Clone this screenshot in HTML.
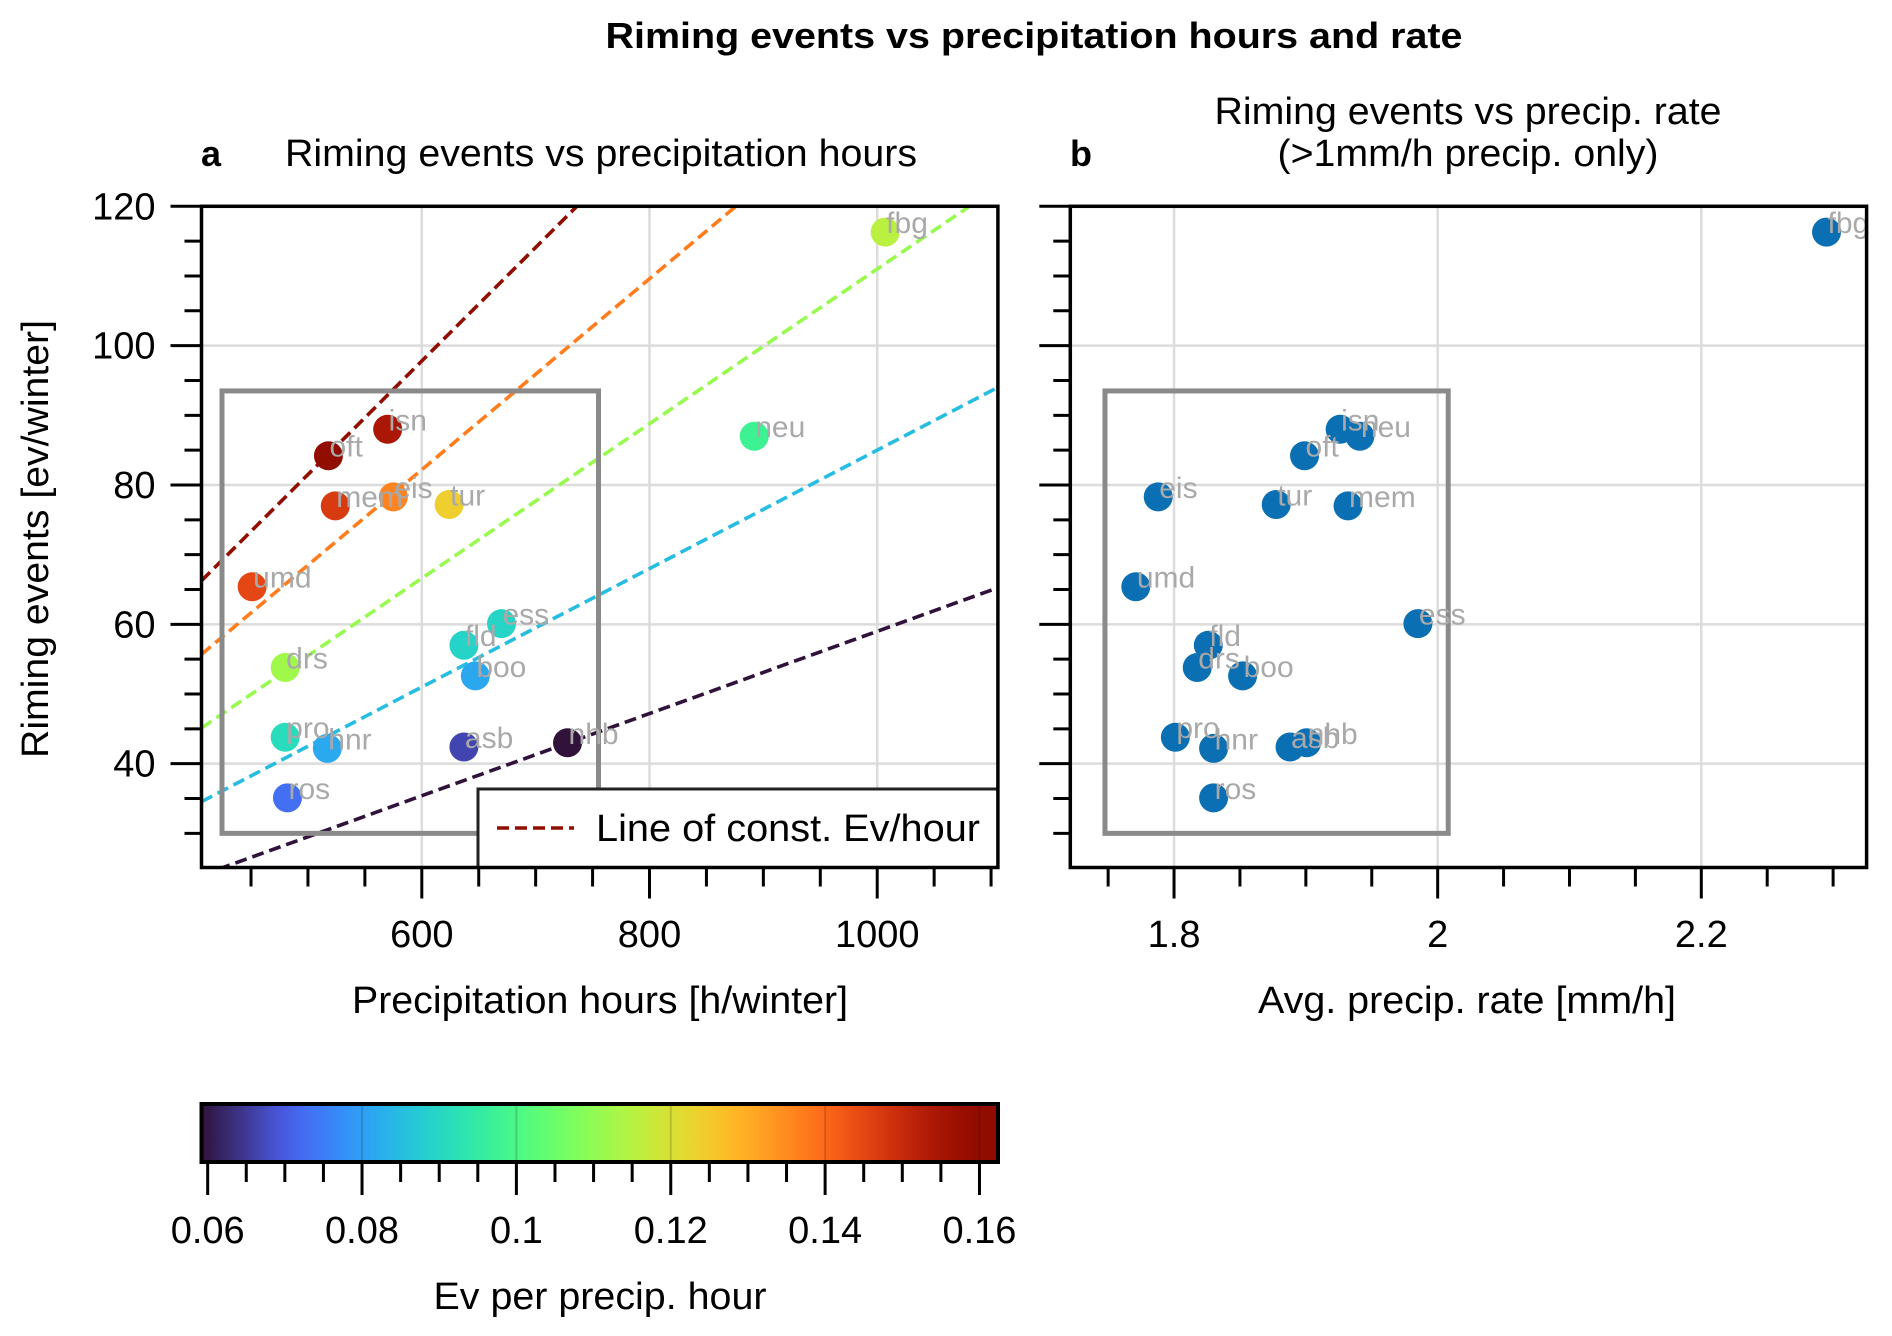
<!DOCTYPE html>
<html><head><meta charset="utf-8"><style>
html,body{margin:0;padding:0;background:#fff;}
svg{display:block;font-family:"Liberation Sans",Arial,sans-serif;}
</style></head><body>
<svg id="fig" width="1892" height="1336" viewBox="0 0 1892 1336" xmlns="http://www.w3.org/2000/svg">
<defs>
<clipPath id="clipA"><rect x="201.5" y="206.3" width="796.4" height="661.2"/></clipPath>
<linearGradient id="turboGrad" x1="0" x2="1" y1="0" y2="0"></linearGradient>
</defs>
<text x="1034" y="48" text-anchor="middle" font-weight="bold" font-size="36" textLength="857" lengthAdjust="spacingAndGlyphs">Riming events vs precipitation hours and rate</text>
<text x="201" y="166" font-weight="bold" font-size="36">a</text>
<text x="285" y="166" font-size="38" textLength="632" lengthAdjust="spacingAndGlyphs">Riming events vs precipitation hours</text>
<text x="1070" y="166" font-weight="bold" font-size="36">b</text>
<text x="1468" y="124" text-anchor="middle" font-size="38" textLength="507" lengthAdjust="spacingAndGlyphs">Riming events vs precip. rate</text>
<text x="1468" y="166" text-anchor="middle" font-size="38" textLength="381" lengthAdjust="spacingAndGlyphs">(&gt;1mm/h precip. only)</text>
<text transform="translate(48,539) rotate(-90)" text-anchor="middle" font-size="38" textLength="438" lengthAdjust="spacingAndGlyphs">Riming events [ev/winter]</text>
<text x="600" y="1013" text-anchor="middle" font-size="38" textLength="496" lengthAdjust="spacingAndGlyphs">Precipitation hours [h/winter]</text>
<text x="1467" y="1013" text-anchor="middle" font-size="38" textLength="418" lengthAdjust="spacingAndGlyphs">Avg. precip. rate [mm/h]</text>
<text x="600" y="1309" text-anchor="middle" font-size="38" textLength="333" lengthAdjust="spacingAndGlyphs">Ev per precip. hour</text>
<g id="layer"></g>
</svg>
<script>
const stations = ["fbg","neu","isn","oft","mem","eis","tur","umd","drs","ess","fld","boo","pro","hnr","asb","nhb","ros"];
const precipHours = [1007,892,570,518,524,575,624,451,480,670,637,647,480,517,637,728,482];
const rimingEvents = [116.3,87.0,88.0,84.2,77.0,78.3,77.2,65.4,53.8,60.1,57.0,52.6,43.8,42.2,42.4,43.0,35.1];
const precipRate = [2.295,1.941,1.926,1.899,1.932,1.788,1.8775,1.771,1.8176,1.985,1.826,1.852,1.801,1.830,1.888,1.9006,1.830];
const constSlopes = [0.059,0.085,0.111,0.137,0.163];
const yTicks = [40,60,80,100,120];
const xTicksA = [600,800,1000];
const xTickLabelsB = ["1.8","2","2.2"];
const xTicksB = [1.8,2.0,2.2];
const cbTicks = [0.06,0.08,0.1,0.12,0.14,0.16];
const cbTickLabels = ["0.06","0.08","0.1","0.12","0.14","0.16"];

const NS="http://www.w3.org/2000/svg";
const layer=document.getElementById('layer');
function mk(tag,attrs,parent){const e=document.createElementNS(NS,tag);for(const k in attrs)e.setAttribute(k,attrs[k]);(parent||layer).appendChild(e);return e;}
function turboPoly(t){
 const r=0.13572138+t*(4.61539260+t*(-42.66032258+t*(132.13108234+t*(-152.94239396+t*59.28637943))));
 const g=0.09140261+t*(2.19418839+t*(4.84296658+t*(-14.18503333+t*(4.27729857+t*2.82956604))));
 const b=0.10667330+t*(12.64194608+t*(-60.58204836+t*(110.36276771+t*(-89.90310912+t*27.34824973))));
 return [r,g,b].map(v=>255*Math.max(0,Math.min(1,v)));}
function turbo(t){t=Math.max(0,Math.min(1,t));
 let c=turboPoly(t);
 if(t<0.1){const a=turboPoly(0.1),s=[48,18,59],f=t/0.1;c=s.map((v,i)=>v+(a[i]-v)*f);}
 return `rgb(${c.map(v=>Math.round(v)).join(',')})`;}
const vmin=0.0592,vmax=0.1624;
const cnorm=v=>(v-vmin)/(vmax-vmin);

const T=206.3,B=867.5,ymin=25.1,ymax=120;
const Y=v=>B-(v-ymin)/(ymax-ymin)*(B-T);
const AL=201.5,AR=997.9,axmin=406.5,axmax=1106;
const XA=v=>AL+(v-axmin)/(axmax-axmin)*(AR-AL);
const BL=1070.3,BR=1866.6,bxmin=1.7213,bxmax=2.3254;
const XB=v=>BL+(v-bxmin)/(bxmax-bxmin)*(BR-BL);

function panel(L,R,X,xmin,xmax,majors,labels,minorStep,showY,key){
  const g=mk('g',{});
  
  
  for(const v of majors){const l=mk('line',{x1:X(v),x2:X(v),y1:T,y2:B,stroke:'#dcdcdc','stroke-width':2.5},g);
     }
  for(const v of yTicks){const l=mk('line',{x1:L,x2:R,y1:Y(v),y2:Y(v),stroke:'#dcdcdc','stroke-width':2.5},g);
     }
  for(let v=30;v<=120;v+=5){const maj=yTicks.includes(v);
    const l=mk('line',{x1:L-(maj?31:17),x2:L,y1:Y(v),y2:Y(v),stroke:'#000','stroke-width':3},g);
     
    if(maj&&showY){const t=mk('text',{x:L-46,y:Y(v)+13,'text-anchor':'end','font-size':38},g);t.textContent=v;
       }}
  const start=Math.ceil(xmin/minorStep-1e-6);
  for(let i=start;i*minorStep<=xmax+1e-9;i++){const v=i*minorStep;
    const mi=majors.findIndex(m=>Math.abs(m-v)<1e-6);
    const l=mk('line',{x1:X(v),x2:X(v),y1:B,y2:B+(mi>=0?31:19),stroke:'#000','stroke-width':3},g);
     
    if(mi>=0){const t=mk('text',{x:X(v),y:947,'text-anchor':'middle','font-size':38},g);t.textContent=labels[mi];
       }}
  return g;
}
panel(AL,AR,XA,axmin,axmax,xTicksA,xTicksA.map(String),50,true,'a');
panel(BL,BR,XB,bxmin,bxmax,xTicksB,xTickLabelsB,0.05,false,'b');

const lg=mk('g',{'clip-path':'url(#clipA)'});
 
constSlopes.forEach(s=>{const l=mk('line',{x1:XA(axmin),y1:Y(s*axmin),x2:XA(axmax),y2:Y(s*axmax),stroke:turbo(cnorm(s)),'stroke-width':3.6,'stroke-dasharray':'12,6'},lg);
   });

function rectData(X,x0,x1,y0,y1,name){const r=mk('rect',{x:X(x0),y:Y(y1),width:X(x1)-X(x0),height:Y(y0)-Y(y1),fill:'none',stroke:'#8a8a8a','stroke-width':5});
   }
rectData(XA,424.5,755.2,30.0,93.5,'highlight-box-a');
rectData(XB,1.7476,2.008,30.0,93.5,'highlight-box-b');

stations.forEach((s,i)=>{
  const cx=XA(precipHours[i]),cy=Y(rimingEvents[i]);
  const c=mk('circle',{cx:cx,cy:cy,r:14.5,fill:turbo(cnorm(rimingEvents[i]/precipHours[i]))});
   
  const bx=XB(precipRate[i]);
  const c2=mk('circle',{cx:bx,cy:cy,r:14.5,fill:'#0a6fb3'});
   
});
stations.forEach((s,i)=>{
  const cy=Y(rimingEvents[i]);
  const t=mk('text',{x:XA(precipHours[i])+1,y:cy+1,'font-size':30,fill:'#a9a9a9'});t.textContent=s;
   
  const t2=mk('text',{x:XB(precipRate[i])+1,y:cy+1,'font-size':30,fill:'#a9a9a9'});t2.textContent=s;
   
});

const leg=mk('g',{});
 
mk('rect',{x:478,y:789,width:520,height:78.5,fill:'#fff',stroke:'#222','stroke-width':3},leg);
const ll=mk('line',{x1:497,x2:574,y1:828,y2:828,stroke:turbo(cnorm(vmax)),'stroke-width':3.6,'stroke-dasharray':'12,6'},leg);
 
const lt=mk('text',{x:596,y:841,'font-size':38,textLength:384,lengthAdjust:'spacingAndGlyphs'},leg);lt.textContent='Line of const. Ev/hour';
 

[[AL,AR],[BL,BR]].forEach((p,k)=>{const f=mk('rect',{x:p[0],y:T,width:p[1]-p[0],height:B-T,fill:'none',stroke:'#000','stroke-width':3.5});
   });

const grad=document.getElementById('turboGrad');
for(let i=0;i<=40;i++){const st=document.createElementNS(NS,'stop');st.setAttribute('offset',(i/40));st.setAttribute('stop-color',turbo(i/40));grad.appendChild(st);}
const CL=201.5,CR=998,CT=1104,CB=1162;
const XC=v=>CL+(v-vmin)/(vmax-vmin)*(CR-CL);
const cb=mk('rect',{x:CL,y:CT,width:CR-CL,height:CB-CT,fill:'url(#turboGrad)',stroke:'#000','stroke-width':4});
 
for(let i=12;i<=32;i++){const v=i*0.005;const mi=cbTicks.findIndex(m=>Math.abs(m-v)<1e-6);
  if(mi>0){const gl=mk('line',{x1:XC(v),x2:XC(v),y1:CT+2,y2:CB-2,stroke:'rgba(0,0,0,0.15)','stroke-width':2});
     }
  const l=mk('line',{x1:XC(v),x2:XC(v),y1:CB,y2:CB+(mi>=0?33:20),stroke:'#000','stroke-width':3});
   
  if(mi>=0){const t=mk('text',{x:XC(v),y:1243,'text-anchor':'middle','font-size':38});t.textContent=cbTickLabels[mi];
     }}
</script>
</body></html>
